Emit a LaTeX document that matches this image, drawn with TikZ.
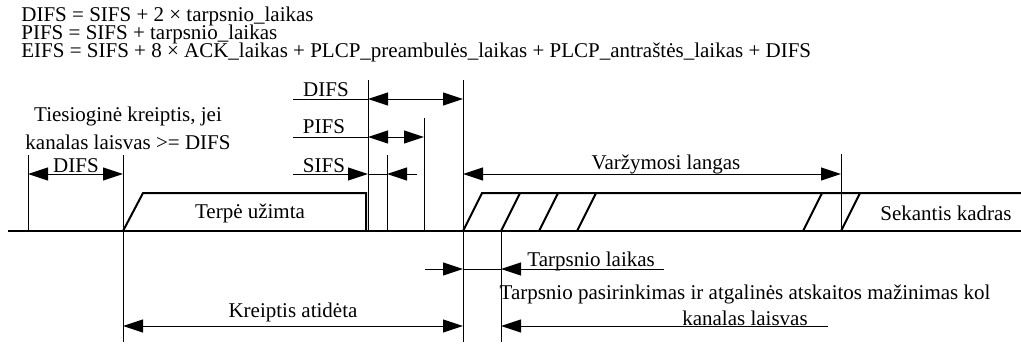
\documentclass[tikz,border=0pt]{standalone}
\usepackage{fontspec}
\setmainfont{Liberation Serif}
\usetikzlibrary{arrows.meta,positioning}

\begin{document}
\begin{tikzpicture}[x=0.5pt,y=-0.5pt]

    \tikzstyle{vl}=[line width=0.5pt]
    \tikzstyle{dim}=[vl, <->]
    \tikzstyle{frm}=[line width=1pt, line join=miter]
    \tikzstyle{txt}=[inner sep=0pt, font=\fontsize{10.5}{12}\selectfont]

    \begin{scope}[>={Triangle[length=10pt,width=6.5pt]}]

      \useasboundingbox (0,0) rectangle (1021,343);

      % formules
      \node (eqDifs) at (21,21)[txt, anchor=base west]{DIFS = SIFS + 2 × tarpsnio\_laikas};
      \node (eqPifs) [below=9pt of eqDifs.base west, txt, anchor=base west]{PIFS = SIFS + tarpsnio\_laikas};
      \node (eqEifs) [below=9pt of eqPifs.base west, txt, anchor=base west]{EIFS = SIFS + 8 × ACK\_laikas + PLCP\_preambulės\_laikas + PLCP\_antraštės\_laikas + DIFS};

      % laiko asis
      \coordinate (t0) at (28,231);
      \coordinate (t1) at (123,231);
      \coordinate (t2) at (368,231);
      \coordinate (t3) at (387,231);
      \coordinate (t4) at (424,231);
      \coordinate (t5) at (463,231);
      \coordinate (t6) at (501,231);
      \coordinate (t7) at (841,231);

      \draw[frm] (8,231) -- (1021,231);

      % vertikalios ribos
      \draw[vl] (t0) -- (t0 |- 0,155);
      \draw[vl] (t1 |- 0,155) -- (t1 |- 0,342);
      \draw[vl] (t2) -- (t2 |- 0,80);
      \draw[vl] (t3) -- (t3 |- 0,155);
      \draw[vl] (t4) -- (t4 |- 0,118);
      \draw[vl] (t5 |- 0,80) -- (t5 |- 0,342);
      \draw[vl] (t6) -- (t6 |- 0,342);
      \draw[vl] (t7) -- (t7 |- 0,154);

      % terpe uzimta ir kiti kadrai
      \draw[frm] (t1) -- (143,193) -- (366,193) -- (366,231);
      \node (busy) at (250,218)[txt, anchor=base]{Terpė užimta};
      \draw[frm] (t5) -- ++(19,-38) -- (1021,193);
      \foreach \x in {501,539,577,803,841}
        \draw[frm] (\x,231) -- ++(19,-38);
      \node (next) at (946,220)[txt, anchor=base]{Sekantis kadras};

      % DIFS pries tiesiogine kreipti
      \node (direct) at (128,128)[txt, align=center, font=\fontsize{10.5}{14}\selectfont]{Tiesioginė kreiptis, jei\\kanalas laisvas >= DIFS};
      \draw[dim] (t0 |- 0,174) -- (t1 |- 0,174);
      \node (difsA) at (76,172)[txt, anchor=base]{DIFS};

      % DIFS, PIFS, SIFS
      \draw[vl] (293,99) -- (t2 |- 0,99);
      \draw[dim] (t2 |- 0,99) -- (t5 |- 0,99);
      \node (difsB) at (326,96)[txt, anchor=base]{DIFS};

      \draw[vl] (293,137) -- (t2 |- 0,137);
      \draw[dim] (t2 |- 0,137) -- (t4 |- 0,137);
      \node (pifs) at (324,133)[txt, anchor=base]{PIFS};

      \draw[vl, ->] (293,174) -- (t2 |- 0,174);
      \draw[vl] (t2 |- 0,174) -- (t3 |- 0,174);
      \draw[vl, <-] (t3 |- 0,174) -- (417,174);
      \node (sifs) at (324,172)[txt, anchor=base]{SIFS};

      % varzymosi langas
      \draw[dim] (t5 |- 0,174) -- (t7 |- 0,174);
      \node (cw) at (666,169)[txt, anchor=base]{Varžymosi langas};

      % apacioje
      \draw[vl, ->] (425,269) -- (t5 |- 0,269);
      \draw[vl] (t5 |- 0,269) -- (t6 |- 0,269);
      \draw[vl, <-] (t6 |- 0,269) -- (664,269);
      \node (slot) at (527,266)[txt, anchor=base west]{Tarpsnio laikas};

      \draw[dim] (t1 |- 0,326) -- (t5 |- 0,326);
      \node (defer) at (293,317)[txt, anchor=base]{Kreiptis atidėta};

      \draw[vl, <-] (t6 |- 0,326) -- (828,326);
      \node (backoff) at (745,305)[txt, align=center, font=\fontsize{10.5}{13}\selectfont]{Tarpsnio pasirinkimas ir atgalinės atskaitos mažinimas kol\\kanalas laisvas};

    \end{scope}
    \end{tikzpicture}
\end{document}
